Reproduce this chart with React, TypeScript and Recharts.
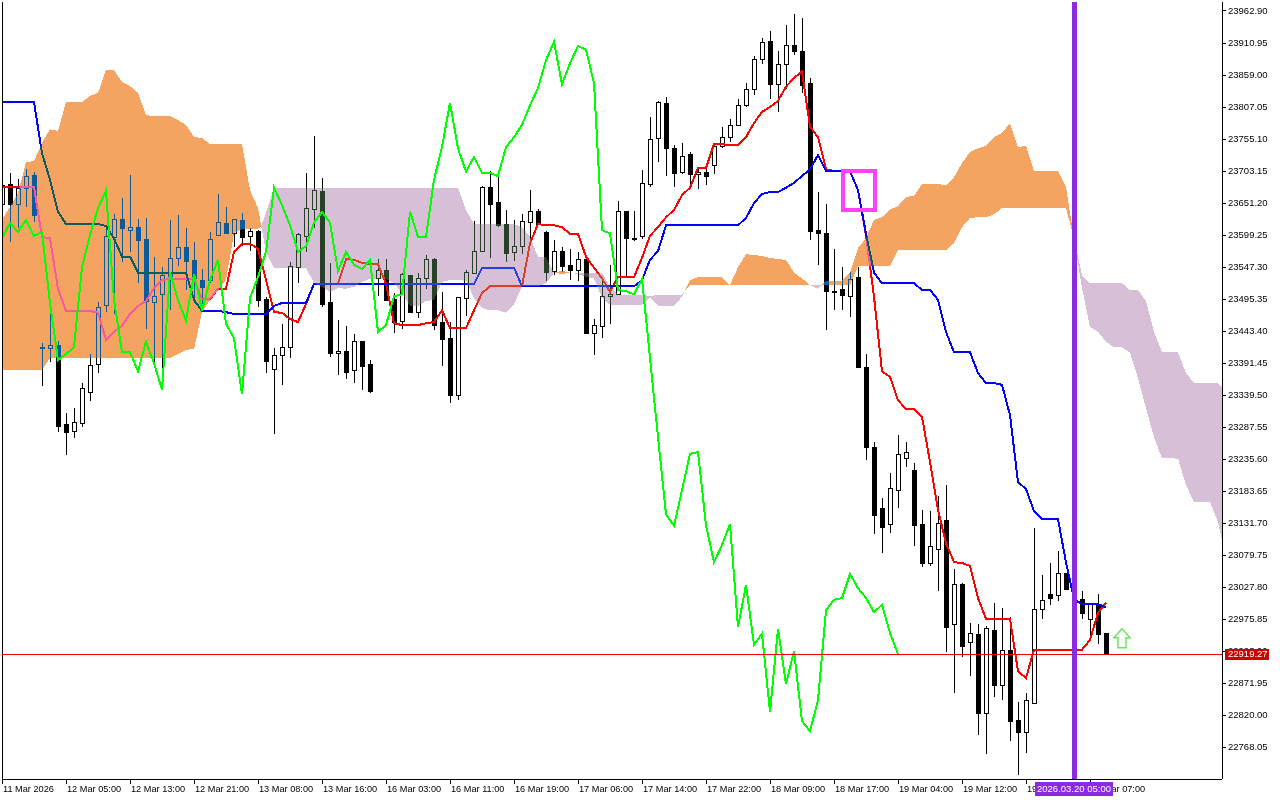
import React from 'react';
import { ComposedChart, Bar, Line, Area, XAxis, YAxis, ReferenceLine, ReferenceArea, ReferenceDot } from 'recharts';

const FONT = '"Liberation Sans", sans-serif';

const opens = [
  23650,23682,23650,23676,23697,23418,23416,23421,23292,23281,
  23294,23344,23390,23486,23596,23625,23607,23612,23593,23490,
  23503,23533,23562,23580,23559,23526,23526,23599,23619,23602,
  23624,23598,23606,23495,23382,23404,23417,23547,23598,23641,
  23671,23490,23408,23411,23380,23427,23390,23529,23542,23495,
  23460,23534,23474,23529,23560,23458,23432,23340,23497,23538,
  23573,23677,23653,23617,23572,23581,23620,23638,23604,23541,
  23573,23551,23542,23560,23440,23452,23500,23503,23638,23594,
  23598,23682,23757,23814,23740,23702,23731,23698,23702,23713,
  23744,23758,23778,23810,23836,23885,23914,23844,23877,23908,
  23898,23846,23607,23602,23508,23512,23500,23531,23385,23255,
  23156,23130,23185,23237,23218,23130,23067,23090,23137,22968,
  23033,22939,22952,22823,22958,22869,22926,22812,22792,22839,
  22992,23016,23015,23051,23025,23008,22976,22999,22953,
];
const closes = [
  23680,23650,23676,23695,23632,23417,23421,23289,23279,23296,
  23351,23388,23482,23598,23625,23611,23612,23591,23492,23500,
  23534,23562,23580,23557,23529,23515,23593,23620,23602,23625,
  23596,23606,23494,23395,23404,23417,23549,23601,23643,23672,
  23487,23408,23411,23377,23427,23387,23346,23542,23494,23458,
  23536,23474,23529,23560,23453,23430,23340,23499,23539,23573,
  23677,23650,23615,23570,23581,23622,23638,23617,23539,23573,
  23549,23542,23560,23440,23453,23500,23503,23638,23594,23594,
  23684,23755,23815,23740,23700,23727,23698,23702,23695,23744,
  23758,23778,23810,23836,23885,23913,23844,23877,23908,23898,
  23843,23606,23602,23508,23508,23502,23528,23385,23255,23145,
  23125,23189,23244,23247,23128,23067,23094,23132,22963,23033,
  22932,22953,22823,22961,22869,22926,22810,22792,22844,22992,
  23007,23010,23051,23025,23007,22986,23002,22952,22919.27,
];
const highs = [
  23692,23700,23690,23706,23702,23424,23482,23427,23310,23318,
  23359,23406,23490,23614,23633,23659,23697,23625,23627,23564,
  23547,23624,23632,23611,23588,23544,23604,23666,23645,23625,
  23635,23611,23608,23499,23416,23455,23555,23602,23700,23760,
  23692,23554,23461,23452,23439,23427,23396,23560,23560,23505,
  23538,23534,23538,23567,23562,23507,23458,23499,23542,23622,
  23679,23703,23693,23640,23624,23633,23672,23641,23606,23591,
  23580,23577,23572,23562,23463,23531,23551,23654,23638,23638,
  23705,23791,23817,23823,23745,23749,23734,23708,23708,23747,
  23775,23788,23820,23846,23890,23919,23930,23898,23940,23958,
  23952,23854,23669,23650,23577,23547,23539,23547,23406,23263,
  23172,23213,23275,23263,23229,23153,23151,23176,23193,23057,
  23034,22969,22968,22964,23002,22994,22979,22841,22856,23124,
  23047,23067,23086,23051,23031,23021,23002,23016,22953,
];
const lows = [
  23632,23590,23612,23646,23622,23356,23395,23281,23244,23271,
  23290,23331,23377,23476,23473,23557,23573,23523,23448,23391,
  23372,23479,23551,23512,23490,23477,23523,23599,23602,23581,
  23583,23575,23484,23377,23278,23357,23401,23523,23573,23612,
  23484,23403,23374,23367,23361,23349,23344,23502,23494,23442,
  23448,23474,23466,23513,23447,23388,23328,23333,23469,23538,
  23573,23564,23614,23557,23559,23570,23586,23617,23526,23536,
  23541,23528,23526,23440,23406,23434,23456,23503,23531,23591,
  23594,23679,23719,23697,23679,23700,23677,23676,23682,23700,
  23742,23752,23778,23809,23828,23878,23822,23801,23838,23893,
  23831,23593,23552,23447,23479,23479,23468,23385,23236,23115,
  23085,23117,23158,23224,23096,23062,23064,23023,22924,22857,
  22916,22885,22789,22758,22851,22846,22779,22724,22760,22839,
  22977,23000,23007,23025,23000,22977,22952,22937,22919,
];
const tenkan = [
  23677,23677,23677,23677,23677,23596,23594,23512,23476,23476,
  23476,23476,23473,23429,23442,23452,23471,23484,23492,23513,
  23526,23528,23528,23528,23528,23495,23495,23512,23512,23572,
  23585,23585,23577,23526,23474,23473,23463,23458,23487,23520,
  23520,23520,23520,23560,23559,23554,23552,23552,23520,23456,
  23453,23453,23453,23456,23458,23477,23448,23448,23448,23477,
  23505,23516,23516,23516,23516,23516,23586,23617,23615,23615,
  23612,23601,23601,23564,23546,23529,23507,23531,23531,23531,
  23562,23598,23612,23628,23640,23664,23676,23708,23708,23747,
  23747,23745,23745,23758,23781,23799,23807,23817,23840,23854,
  23865,23775,23758,23706,23703,23703,23703,23672,23599,23499,
  23378,23369,23331,23317,23317,23304,23231,23153,23099,23068,
  23067,23062,23010,22976,22976,22976,22976,22891,22880,22926,
  22926,22926,22926,22926,22926,22926,22942,22986,23002,
];
const kijun = [
  23815,23815,23815,23815,23815,23732,23689,23637,23617,23617,
  23617,23617,23617,23614,23594,23564,23564,23538,23538,23538,
  23538,23538,23538,23538,23494,23476,23476,23476,23474,23471,
  23471,23471,23471,23471,23484,23489,23489,23489,23489,23520,
  23520,23520,23520,23520,23520,23520,23520,23520,23520,23520,
  23520,23520,23520,23520,23520,23520,23520,23520,23520,23520,
  23546,23546,23546,23546,23546,23516,23516,23516,23516,23516,
  23516,23516,23516,23516,23516,23516,23516,23516,23516,23516,
  23526,23559,23573,23615,23615,23615,23615,23615,23615,23615,
  23615,23615,23615,23627,23651,23666,23669,23669,23676,23684,
  23695,23706,23729,23703,23703,23703,23703,23672,23602,23538,
  23521,23521,23521,23521,23521,23510,23510,23494,23442,23409,
  23409,23409,23375,23359,23359,23356,23307,23198,23187,23151,
  23138,23138,23138,23068,23008,23000,23000,23000,22995,
];
const chikou = [
  23594,23619,23604,23624,23598,23604,23489,23396,23406,23417,
  23547,23599,23643,23671,23494,23409,23409,23378,23426,23391,
  23348,23539,23494,23460,23536,23477,23526,23559,23455,23432,
  23341,23497,23531,23572,23676,23648,23615,23572,23581,23619,
  23637,23619,23541,23572,23551,23544,23559,23442,23453,23500,
  23503,23637,23596,23596,23689,23742,23814,23740,23702,23726,
  23700,23700,23695,23742,23758,23778,23810,23838,23883,23913,
  23844,23878,23906,23900,23846,23607,23602,23510,23508,23503,
  23528,23400,23271,23146,23127,23185,23244,23247,23128,23068,
  23096,23130,22963,23031,22934,22952,22825,22960,22870,22924,
  22810,22794,22844,22990,23007,23010,23049,23026,23010,22987,
  22999,22953,22919,
];
const senkouA = [
  23624,23645,23667,23718,23719,23749,23771,23768,23815,23815,
  23815,23825,23830,23867,23867,23848,23841,23830,23794,23792,
  23792,23792,23786,23778,23758,23757,23747,23747,23747,23747,
  23747,23672,23643,23572,23546,23546,23546,23546,23546,23521,
  23515,23507,23513,23512,23515,23523,23528,23528,23528,23521,
  23505,23484,23484,23492,23494,23523,23526,23526,23525,23497,
  23481,23477,23477,23473,23487,23516,23516,23516,23521,23538,
  23541,23538,23536,23531,23529,23497,23486,23486,23486,23486,
  23486,23497,23484,23484,23484,23499,23526,23531,23531,23531,
  23531,23518,23547,23568,23567,23565,23562,23560,23559,23538,
  23529,23518,23512,23525,23525,23525,23538,23578,23594,23624,
  23628,23641,23646,23661,23663,23682,23682,23682,23680,23693,
  23716,23734,23740,23744,23758,23765,23781,23742,23744,23703,
  23703,23703,23703,23677,23594,23513,23450,23442,23426,23417,
  23417,23408,23367,23318,23271,23237,23237,23236,23193,23166,
  23166,23166,23133,
];
const senkouB = [
  23380,23380,23380,23380,23380,23380,23400,23400,23400,23400,
  23400,23400,23400,23400,23400,23400,23400,23400,23400,23400,
  23400,23400,23406,23413,23414,23474,23494,23510,23526,23602,
  23609,23609,23609,23635,23676,23676,23676,23676,23676,23676,
  23676,23676,23676,23676,23676,23676,23676,23676,23676,23676,
  23676,23676,23676,23676,23676,23676,23676,23676,23640,23617,
  23617,23617,23617,23617,23617,23612,23596,23564,23564,23538,
  23536,23538,23538,23538,23538,23538,23515,23502,23502,23502,
  23502,23500,23502,23502,23502,23502,23518,23518,23518,23518,
  23518,23518,23518,23518,23518,23518,23518,23518,23518,23518,
  23518,23518,23518,23518,23518,23518,23518,23549,23549,23549,
  23549,23549,23575,23575,23575,23575,23575,23575,23575,23586,
  23612,23627,23628,23628,23633,23643,23643,23643,23643,23643,
  23643,23643,23643,23643,23594,23534,23521,23521,23521,23521,
  23521,23510,23510,23492,23442,23409,23409,23409,23375,23359,
  23359,23359,23359,
];
// Where the two cloud spans cross between bars, and where the window cuts the cloud.
const cloudExtras = [
  { i: 32.4, a: 23614, b: 23614 },
  { i: 85.3, a: 23507, b: 23507 },
  { i: 102.5, a: 23518, b: 23518 },
  { i: 152.5, a: 23104, b: 23352 },
];
const dateLabels = [
  '11 Mar 2026','12 Mar 05:00','12 Mar 13:00','12 Mar 21:00','13 Mar 08:00','13 Mar 16:00',
  '16 Mar 03:00','16 Mar 11:00','16 Mar 19:00','17 Mar 06:00','17 Mar 14:00','17 Mar 22:00',
  '18 Mar 09:00','18 Mar 17:00','19 Mar 04:00','19 Mar 12:00','19 Mar 20:00','20 Mar 07:00',
];
const dateTicks = [0,8,16,24,32,40,48,56,64,72,80,88,96,104,112,120,128,136];
const priceTicks = [
  23962.90,23910.95,23859.00,23807.05,23755.10,23703.15,23651.20,23599.25,
  23547.30,23495.35,23443.40,23391.45,23339.50,23287.55,23235.60,23183.65,
  23131.70,23079.75,23027.80,22975.85,22923.90,22871.95,22820.00,22768.05,
];
const LAST_PRICE = 22919.27;
const NEAREST_TICK = 22923.90;
const PRICE_PER_PX = 51.95 / 32;
const MARKER_BAR = 134;
const LAST_DATE_TICK = 136;
const BAR_PX = 8;
const MARKER_LABEL = '2026.03.20 05:00';
const ARROW = { i: 140, price: 22944 };
const BOX = { i1: 105.125, i2: 109.125, p1: 23703, p2: 23640 };

const cloudRow = (i: number, a: number, b: number) => ({
  orange: a >= b ? [b, a] : null,
  thistle: a <= b ? [a, b] : null,
  i,
});

const rows: any[] = senkouA.map((a, i) => {
  const row: any = cloudRow(i, a, senkouB[i]);
  if (i < opens.length) {
    row.o = opens[i]; row.c = closes[i]; row.h = highs[i]; row.l = lows[i];
    row.range = [lows[i], highs[i]];
    row.tenkan = tenkan[i];
    row.kijun = kijun[i];
  }
  if (i < chikou.length) row.chikou = chikou[i];
  return row;
});
cloudExtras.forEach((e) => rows.push(cloudRow(e.i, e.a, e.b)));
rows.sort((p, q) => p.i - q.i);

const Candle = (props: any) => {
  const { x, y, width, height, payload } = props;
  if (!payload || payload.o == null || payload.h == null) return null;
  const col = Math.round(x + width / 2);
  const k = payload.h > payload.l ? height / (payload.h - payload.l) : 0;
  const py = (v: number) => y + (payload.h - v) * k;
  const top = Math.round(py(Math.max(payload.o, payload.c)));
  const bot = Math.round(py(Math.min(payload.o, payload.c)));
  const up = payload.c >= payload.o;
  return (
    <g shapeRendering="crispEdges">
      <line x1={col + 0.5} x2={col + 0.5} y1={Math.round(y)} y2={Math.round(y + height) + 1} stroke="#000" strokeWidth={1} />
      <rect x={col - 1.5} y={top + 0.5} width={4} height={Math.max(bot - top, 0.5)} fill={up ? '#fff' : '#000'} stroke="#000" strokeWidth={1} />
    </g>
  );
};

const DateTick = (props: any) => {
  const { x, y, index, payload } = props;
  const base = y - 8;
  const isLast = payload && payload.value === LAST_DATE_TICK;
  const markerX = x + (MARKER_BAR - LAST_DATE_TICK) * BAR_PX;
  return (
    <g shapeRendering="crispEdges">
      <line x1={x + 0.5} x2={x + 0.5} y1={base} y2={base + 5} stroke="#000" />
      <text x={x + 1} y={base + 13} fontSize={9.2} fontFamily={FONT} fill="#000" textAnchor="start">{dateLabels[index]}</text>
      {isLast && (
        <g>
          <rect x={markerX - 39} y={base + 3} width={78} height={14} fill="#8A2BE2" />
          <text x={markerX} y={base + 13} fontSize={9.5} fontFamily={FONT} fill="#fff" textAnchor="middle">{MARKER_LABEL}</text>
        </g>
      )}
    </g>
  );
};

const PriceTick = (props: any) => {
  const { x, y, payload } = props;
  const value = payload.value as number;
  const cy = y + (value - LAST_PRICE) / PRICE_PER_PX;
  return (
    <g>
      <text x={x} y={y} dy="0.355em" fontSize={9.5} fontFamily={FONT} fill="#000" textAnchor="start">{value.toFixed(2)}</text>
      {value === NEAREST_TICK && (
        <g>
          <rect x={x - 3} y={Math.round(cy) - 5} width={44} height={11} fill="#CC0000" shapeRendering="crispEdges" />
          <text x={x} y={cy} dy="0.355em" fontSize={9.5} fontFamily={FONT} fill="#fff" textAnchor="start">{LAST_PRICE.toFixed(2)}</text>
        </g>
      )}
    </g>
  );
};

const PriceLine = (props: any) => {
  const row = Math.round(props.y1 ?? props.y) + 0.5;
  return <line x1={props.x1} x2={props.x2} y1={row} y2={row} stroke="#F00000" strokeWidth={1} shapeRendering="crispEdges" />;
};

const ArrowShape = (props: any) => {
  const { cx, cy } = props;
  const pts = [[0,-10],[8,-1],[4,-1],[4,9],[-4,9],[-4,-1],[-8,-1]]
    .map(([dx, dy]) => `${cx + dx},${cy + dy}`).join(' ');
  return <polygon points={pts} fill="#fff" stroke="#6FE060" strokeWidth={1.5} />;
};

export default function App() {
  return (
    <div style={{ position: 'absolute', left: 0, top: 0, width: 1280, height: 800, background: '#fff', isolation: 'isolate', overflow: 'hidden' }}>
      <style>{`
        .recharts-area { mix-blend-mode: difference; }
        .recharts-area-area, .recharts-line-curve { shape-rendering: crispEdges; }
        .recharts-reference-line-line, .recharts-cartesian-axis-line, .recharts-cartesian-axis-tick-line { shape-rendering: crispEdges; }
      `}</style>
      <ComposedChart width={1280} height={800} data={rows} margin={{ top: 2, left: 2, right: 0, bottom: 0 }}>
        <XAxis
          dataKey="i"
          type="number"
          scale="linear"
          domain={[0, 152.5]}
          ticks={dateTicks}
          interval={0}
          height={21}
          tick={<DateTick />}
          tickLine={false}
          axisLine={{ stroke: '#000' }}
          allowDataOverflow
        />
        <YAxis
          orientation="right"
          type="number"
          domain={[22716.13, 23977.51]}
          ticks={priceTicks}
          interval={0}
          width={58}
          tickSize={4}
          tickMargin={2}
          tick={<PriceTick />}
          axisLine={{ stroke: '#000' }}
          tickLine={{ stroke: '#000' }}
          allowDataOverflow
        />
        <Bar dataKey="range" barSize={5} shape={<Candle />} isAnimationActive={false} zIndex={100} />
        <Line dataKey="tenkan" stroke="#FF0000" strokeWidth={2} dot={false} connectNulls isAnimationActive={false} zIndex={110} />
        <Line dataKey="kijun" stroke="#0000FF" strokeWidth={2} dot={false} connectNulls isAnimationActive={false} zIndex={120} />
        <Area dataKey="orange" fill="#0B5B9F" fillOpacity={1} stroke="none" isAnimationActive={false} zIndex={130} />
        <Area dataKey="thistle" fill="#274027" fillOpacity={1} stroke="none" isAnimationActive={false} zIndex={131} />
        <Line dataKey="chikou" stroke="#00FF00" strokeWidth={2} dot={false} connectNulls isAnimationActive={false} zIndex={140} />
        <ReferenceLine x={0} stroke="#000" strokeWidth={1} zIndex={150} />
        <ReferenceLine y={LAST_PRICE} stroke="#F00000" strokeWidth={1} shape={<PriceLine />} zIndex={1500} />
        <ReferenceArea x1={BOX.i1} x2={BOX.i2} y1={BOX.p1} y2={BOX.p2} fill="none" stroke="#FF40FF" strokeWidth={4} fillOpacity={0} isFront zIndex={1600} />
        <ReferenceDot x={ARROW.i} y={ARROW.price} shape={<ArrowShape />} isFront zIndex={1600} />
        <ReferenceLine x={MARKER_BAR} stroke="#8A2BE2" strokeWidth={5} isFront zIndex={1700} />
      </ComposedChart>
    </div>
  );
}
